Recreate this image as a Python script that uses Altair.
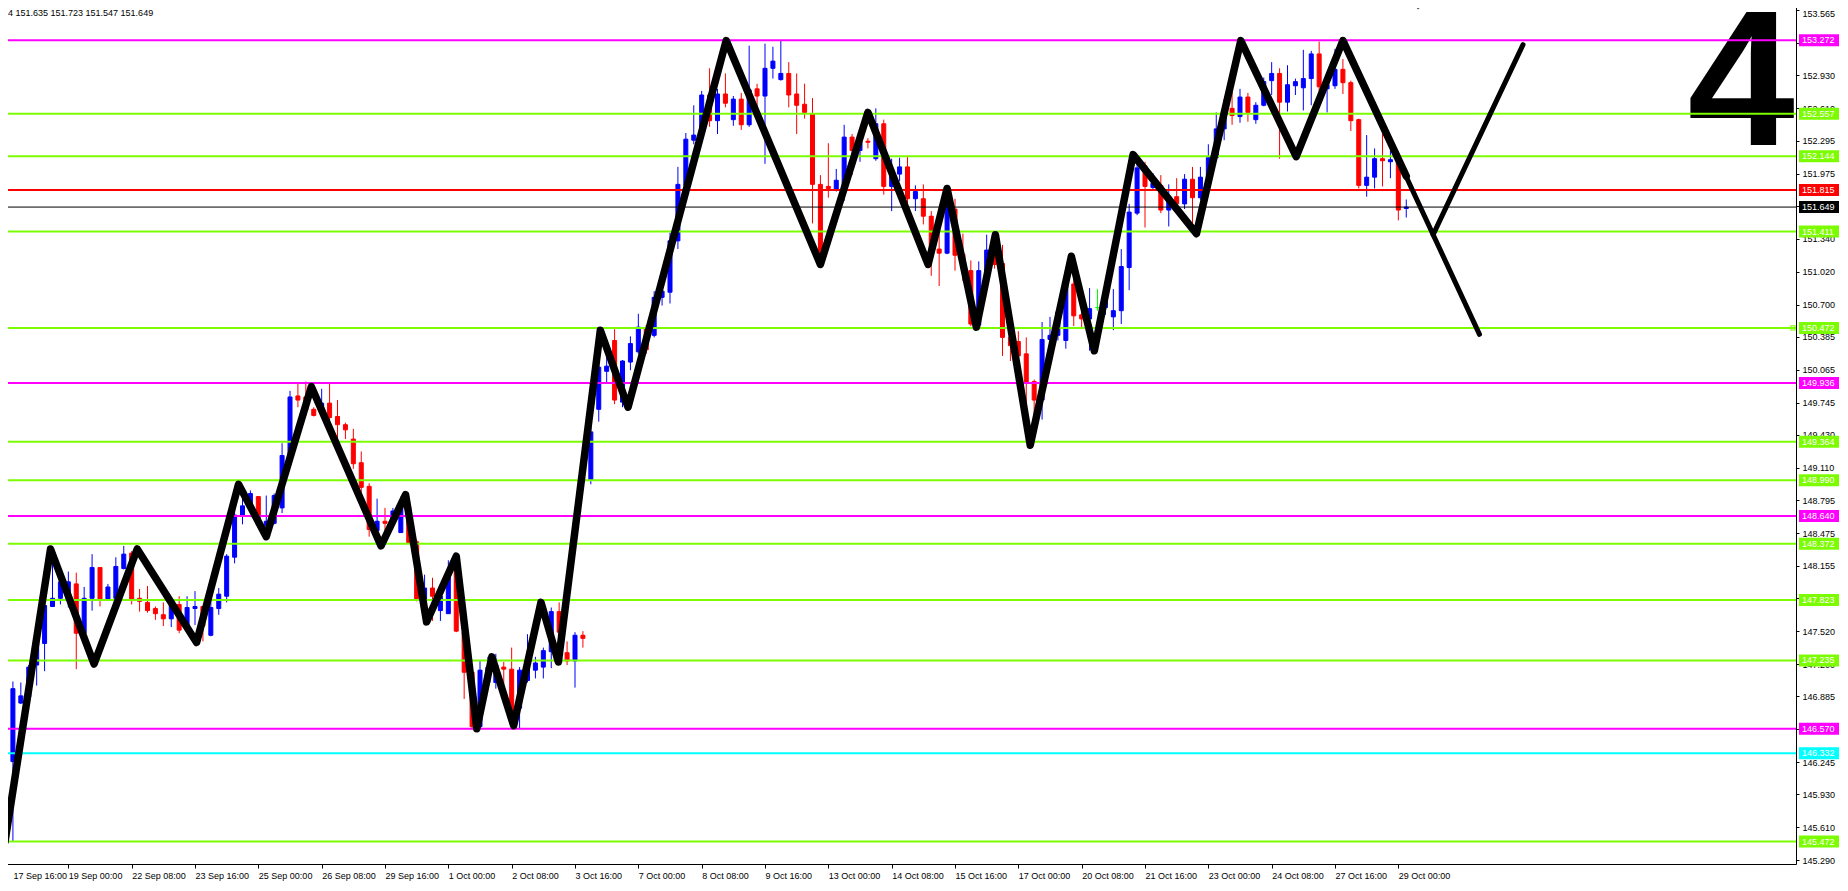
import altair as alt
import pandas as pd

W = 1796
H = 864

# ---------------- data ----------------
OPEN = [
    146.34, 146.25, 146.82, 146.88, 147.19, 147.40, 147.76, 147.84, 147.83, 147.98,
    147.50, 147.84, 148.14, 147.82, 147.84, 148.13, 148.28, 147.84, 147.80, 147.74,
    147.68, 147.64, 147.78, 147.56, 147.74, 147.76, 147.48, 147.74, 147.86, 148.24,
    148.64, 148.74, 148.83, 148.55, 148.57, 148.72, 149.23, 149.81, 149.80, 149.68,
    149.68, 149.74, 149.61, 149.53, 149.39, 149.16, 148.93, 148.50, 148.59, 148.57,
    148.48, 148.73, 148.39, 147.83, 147.94, 147.72, 147.69, 148.19, 147.51, 147.12,
    146.59, 147.02, 147.02, 147.17, 147.15, 146.77, 147.04, 147.14, 147.17, 147.32,
    147.71, 147.31, 147.23, 147.48, 148.99, 149.68, 150.05, 150.35, 149.75, 150.14,
    150.24, 150.47, 150.40, 150.77, 150.82, 151.32, 151.86, 152.30, 152.35, 152.74,
    152.49, 152.75, 152.50, 152.70, 152.45, 152.80, 152.73, 153.00, 152.89, 152.95,
    152.75, 152.65, 152.56, 151.87, 151.85, 151.82, 151.82, 152.33, 152.20, 152.29,
    152.12, 152.46, 151.85, 151.97, 152.04, 151.73, 151.73, 151.56, 151.24, 151.20,
    151.63, 151.19, 151.03, 150.50, 151.02, 151.23, 151.10, 150.38, 150.34, 150.22,
    149.95, 149.77, 150.36, 150.40, 150.35, 150.90, 150.60, 150.56, 150.67, 150.67,
    150.58, 150.64, 151.06, 151.59, 152.05, 151.84, 151.86, 151.62, 151.75, 151.68,
    151.92, 151.74, 151.93, 152.13, 152.41, 152.61, 152.53, 152.72, 152.50, 152.64,
    152.88, 152.95, 152.67, 152.83, 152.81, 152.90, 153.14, 152.80, 152.83, 152.99,
    152.86, 152.50, 151.86, 151.94, 152.12, 152.09, 152.11, 151.635,
]
HIGH = [
    146.38, 147.03, 147.02, 147.19, 147.41, 147.78, 148.22, 148.09, 148.10, 148.09,
    147.95, 148.27, 148.14, 147.98, 148.24, 148.35, 148.30, 147.93, 147.96, 147.76,
    147.80, 147.80, 147.86, 147.86, 147.91, 147.76, 147.82, 147.94, 148.27, 148.71,
    148.86, 148.89, 148.83, 148.84, 148.86, 149.35, 149.86, 149.93, 149.95, 149.70,
    149.88, 149.945, 149.77, 149.55, 149.49, 149.27, 148.96, 148.81, 148.72, 148.72,
    148.83, 148.78, 148.41, 148.07, 148.04, 147.98, 148.21, 148.27, 147.51, 147.12,
    147.23, 147.27, 147.30, 147.22, 147.36, 147.17, 147.49, 147.27, 147.36, 147.75,
    147.80, 147.42, 147.51, 147.52, 149.70, 150.20, 150.27, 150.46, 150.16, 150.39,
    150.61, 150.50, 150.83, 150.86, 151.40, 152.04, 152.37, 152.64, 152.78, 153.00,
    152.80, 152.95, 152.73, 152.76, 153.22, 152.85, 153.24, 153.21, 153.27, 153.06,
    152.95, 152.85, 152.71, 151.96, 152.27, 152.02, 152.45, 152.36, 152.36, 152.32,
    152.61, 152.50, 152.12, 152.13, 152.15, 151.86, 151.87, 151.61, 151.51, 151.83,
    151.73, 151.39, 151.13, 151.12, 151.38, 151.38, 151.28, 150.45, 150.44, 150.38,
    149.97, 150.53, 150.58, 150.67, 151.00, 151.05, 150.64, 150.86, 150.85, 150.81,
    150.85, 151.24, 151.68, 152.16, 152.09, 151.98, 151.96, 151.87, 151.93, 151.97,
    152.04, 152.04, 152.26, 152.57, 152.70, 152.77, 152.80, 152.76, 152.67, 152.91,
    153.06, 153.00, 153.03, 152.90, 153.18, 153.17, 153.26, 152.93, 153.19, 153.09,
    152.88, 152.51, 152.35, 152.22, 152.36, 152.20, 152.19, 151.723,
]
LOW = [
    146.17, 145.47, 146.81, 146.82, 146.99, 147.13, 147.76, 147.78, 147.75, 147.15,
    147.48, 147.72, 147.76, 147.82, 147.84, 148.12, 147.78, 147.71, 147.70, 147.63,
    147.57, 147.56, 147.50, 147.52, 147.58, 147.42, 147.47, 147.68, 147.80, 148.18,
    148.56, 148.68, 148.55, 148.55, 148.56, 148.67, 149.22, 149.70, 149.62, 149.61,
    149.65, 149.57, 149.40, 149.39, 149.10, 148.86, 148.44, 148.49, 148.48, 148.55,
    148.48, 148.38, 147.81, 147.81, 147.62, 147.62, 147.69, 147.51, 146.86, 146.56,
    146.57, 146.98, 146.96, 146.83, 146.70, 146.57, 147.02, 147.06, 147.06, 147.16,
    147.22, 147.19, 146.97, 147.36, 148.95, 149.56, 149.93, 149.73, 149.70, 150.06,
    150.22, 150.22, 150.38, 150.69, 150.71, 151.24, 151.85, 152.26, 152.28, 152.43,
    152.36, 152.62, 152.44, 152.40, 152.43, 152.54, 152.07, 152.90, 152.88, 152.62,
    152.36, 152.51, 151.49, 151.09, 151.74, 151.80, 151.71, 151.96, 152.09, 152.22,
    152.10, 151.77, 151.61, 151.90, 151.67, 151.61, 151.48, 150.98, 150.88, 151.19,
    151.03, 150.93, 150.49, 150.48, 151.00, 151.05, 150.20, 150.15, 150.20, 149.67,
    149.59, 149.58, 150.30, 150.35, 150.27, 150.49, 150.48, 150.25, 150.64, 150.60,
    150.45, 150.51, 150.84, 151.57, 151.45, 151.82, 151.59, 151.46, 151.67, 151.63,
    151.45, 151.72, 151.91, 152.12, 152.30, 152.45, 152.47, 152.48, 152.46, 152.63,
    152.74, 152.12, 152.58, 152.74, 152.59, 152.64, 152.78, 152.57, 152.80, 152.75,
    152.39, 151.83, 151.75, 151.83, 151.85, 151.93, 151.52, 151.547,
]
CLOSE = [
    146.25, 146.96, 146.89, 147.17, 147.41, 147.77, 147.84, 148.00, 148.00, 147.50,
    147.84, 148.14, 147.83, 147.95, 148.15, 148.27, 147.83, 147.81, 147.72, 147.69,
    147.64, 147.78, 147.53, 147.75, 147.76, 147.57, 147.75, 147.88, 148.25, 148.65,
    148.74, 148.86, 148.55, 148.59, 148.84, 149.23, 149.80, 149.77, 149.67, 149.62,
    149.74, 149.60, 149.53, 149.48, 149.15, 148.92, 148.51, 148.59, 148.57, 148.69,
    148.77, 148.38, 147.83, 147.94, 147.86, 147.86, 148.09, 147.52, 147.12, 146.59,
    147.14, 147.17, 147.19, 147.15, 146.75, 147.14, 147.19, 147.21, 147.33, 147.71,
    147.51, 147.23, 147.48, 147.45, 149.46, 150.09, 150.10, 149.77, 150.15, 150.32,
    150.48, 150.26, 150.77, 150.83, 151.32, 151.87, 152.31, 152.35, 152.74, 152.49,
    152.75, 152.66, 152.70, 152.45, 152.79, 152.73, 153.00, 153.07, 152.95, 152.74,
    152.64, 152.57, 151.87, 151.15, 151.83, 151.91, 152.33, 152.20, 152.28, 152.28,
    152.46, 151.85, 151.96, 152.04, 151.73, 151.80, 151.56, 151.22, 151.20, 151.67,
    151.18, 151.05, 150.51, 151.03, 151.23, 151.09, 150.38, 150.30, 150.20, 149.94,
    149.77, 150.36, 150.40, 150.63, 150.96, 150.59, 150.56, 150.66, 150.67, 150.73,
    150.64, 151.07, 151.60, 152.03, 151.85, 151.88, 151.62, 151.75, 151.68, 151.92,
    151.74, 151.94, 152.13, 152.41, 152.57, 152.54, 152.72, 152.57, 152.64, 152.87,
    152.95, 152.67, 152.84, 152.87, 152.90, 153.14, 152.82, 152.84, 152.99, 152.86,
    152.49, 151.86, 151.94, 152.12, 152.10, 152.11, 151.62, 151.649,
]

ZZ_BAR = [0, 5.75, 11.25, 16.7, 24.2, 29.5, 33.0, 38.7, 47.5, 50.6, 53.25, 57.0,
          59.6, 61.5, 64.25, 67.7, 69.9, 75.2, 78.7, 91.1, 103.0, 109.0, 116.6,
          119.0, 122.7, 125.1, 129.5, 134.7, 137.6, 142.5, 150.5, 156.1, 163.1,
          169.0, 177.0]
ZZ_PRICE = [145.47, 148.32, 147.20, 148.32, 147.41, 148.95, 148.44, 149.90, 148.35,
            148.85, 147.61, 148.25, 146.57, 147.27, 146.60, 147.80, 147.22, 150.45,
            149.70, 153.27, 151.09, 152.57, 151.09, 151.83, 150.48, 151.38, 149.33,
            151.17, 150.25, 152.16, 151.39, 153.27, 152.14, 153.27, 151.95]

PROJ_SEG = ["a", "a", "b", "b"]
PROJ_BAR = [169.0, 186.25, 180.4, 191.75]
PROJ_PRICE = [153.27, 150.41, 151.38, 153.23]

LEVEL_PRICE = [153.272, 152.557, 152.144, 151.815, 151.649, 151.411, 150.472,
               149.936, 149.364, 148.990, 148.640, 148.372, 147.823, 147.235,
               146.570, 146.332, 145.472]
LEVEL_COLOR = ["#FF00FF", "#7CFC00", "#7CFC00", "#FF0000", "#000000", "#7CFC00",
               "#7CFC00", "#FF00FF", "#7CFC00", "#7CFC00", "#FF00FF", "#7CFC00",
               "#7CFC00", "#7CFC00", "#FF00FF", "#00FFFF", "#7CFC00"]
LEVEL_WIDTH = [2, 2, 2, 2, 1, 2, 2, 2, 2, 2, 2, 2, 2, 2, 2, 2, 2]

Y_TICKS = [153.565, 153.250, 152.930, 152.610, 152.295, 151.975, 151.660, 151.340,
           151.020, 150.700, 150.385, 150.065, 149.745, 149.430, 149.110, 148.795,
           148.475, 148.155, 147.840, 147.520, 147.200, 146.885, 146.565, 146.245,
           145.930, 145.610, 145.290]

X_LABELS = ["17 Sep 16:00", "19 Sep 00:00", "22 Sep 08:00", "23 Sep 16:00",
            "25 Sep 00:00", "26 Sep 08:00", "29 Sep 16:00", "1 Oct 00:00",
            "2 Oct 08:00", "3 Oct 16:00", "7 Oct 00:00", "8 Oct 08:00",
            "9 Oct 16:00", "13 Oct 00:00", "14 Oct 08:00", "15 Oct 16:00",
            "17 Oct 00:00", "20 Oct 08:00", "21 Oct 16:00", "23 Oct 00:00",
            "24 Oct 08:00", "27 Oct 16:00", "29 Oct 00:00"]

HEADER = "4 151.635 151.723 151.547 151.649"
BIG_LABEL = ["4"]
BIG_BAR = [219.3]
BIG_PRICE = [152.25]

# ---------------- frames ----------------
candles = pd.DataFrame({"bar": list(range(len(OPEN))), "open": OPEN, "high": HIGH,
                        "low": LOW, "close": CLOSE})
candles["dir"] = ["up" if c > o else ("down" if c < o else "doji")
                  for o, c in zip(OPEN, CLOSE)]

zz = pd.DataFrame({"bar": ZZ_BAR, "price": ZZ_PRICE, "i": list(range(len(ZZ_BAR)))})
proj = pd.DataFrame({"seg": PROJ_SEG, "bar": PROJ_BAR, "price": PROJ_PRICE,
                     "i": list(range(len(PROJ_BAR)))})
levels = pd.DataFrame({"price": LEVEL_PRICE, "color": LEVEL_COLOR, "w": LEVEL_WIDTH})
levels["label"] = [f"{p:.3f}" for p in LEVEL_PRICE]
big = pd.DataFrame({"bar": BIG_BAR, "price": BIG_PRICE, "t": BIG_LABEL})
head = pd.DataFrame({"t": [HEADER]})
alert = pd.DataFrame({"price": [150.472]})
arrow = pd.DataFrame({"bar": [178.5], "price": [153.60]})

FONT = "Liberation Sans"
xs = alt.Scale(domain=[0, 225.6], nice=False, zero=False)
ys = alt.Scale(domain=[145.253, 153.665], nice=False, zero=False)
cscale = alt.Scale(domain=["up", "down", "doji"], range=["#0000FF", "#FF0000", "#00FF00"])

label_expr = "[" + ",".join(f"'{s}'" for s in X_LABELS) + "][round(datum.value / 8)]"

X_AXIS = alt.Axis(values=[8 * i for i in range(len(X_LABELS))], labelExpr=label_expr,
                  title=None, grid=False, labelAlign="left", labelBaseline="top",
                  labelPadding=3, tickSize=4, labelFont=FONT, labelFontSize=9,
                  labelColor="black", tickColor="black", domainColor="black",
                  labelOverlap=False, labelFlush=False,
                  labelOffset={"condition": {"test": "datum.value == 0", "value": 8},
                               "value": 0})
Y_AXIS = alt.Axis(values=Y_TICKS, format=".3f", orient="right", title=None, grid=False,
                  tickSize=3, labelPadding=3, labelFont=FONT, labelFontSize=9,
                  labelColor="black", tickColor="black", domainColor="black",
                  labelOverlap=False, labelFlush=False,
                  labelOffset={"condition": {"test": "datum.value > 153.5", "value": 3},
                               "value": 0})


def X(field):
    return alt.X(field, type="quantitative", scale=xs, axis=X_AXIS)


def Y(field):
    return alt.Y(field, type="quantitative", scale=ys, axis=Y_AXIS)


wicks = alt.Chart(candles).mark_rule(strokeWidth=1, clip=True).encode(
    x=X("bar"), y=Y("low"), y2="high",
    color=alt.Color("dir:N", scale=cscale, legend=None),
)
bodies = alt.Chart(candles).mark_bar(width=4, strokeWidth=1, clip=True).encode(
    x=X("bar"), y=Y("open"), y2="close",
    color=alt.Color("dir:N", scale=cscale, legend=None),
    stroke=alt.Stroke("dir:N", scale=cscale, legend=None),
)
big4 = alt.Chart(big).mark_text(fontSize=193, fontWeight="bold", font=FONT,
                                align="center", baseline="alphabetic",
                                color="black", clip=True).encode(
    x=X("bar"), y=Y("price"), text="t:N",
)
level_lines = alt.Chart(levels).mark_rule(clip=True).encode(
    y=Y("price"),
    color=alt.Color("color:N", scale=None),
    strokeWidth=alt.StrokeWidth("w:Q", scale=None),
)
alert_pt = alt.Chart(alert).mark_point(shape="square", filled=False, size=18,
                                       color="#7CFC00", strokeWidth=1.5).encode(
    x=alt.value(W - 3), y=Y("price"),
)
zigzag = alt.Chart(zz).mark_line(color="black", strokeWidth=7.5, strokeJoin="round",
                                 strokeCap="round", clip=True).encode(
    x=X("bar"), y=Y("price"), order="i:Q",
)
projection = alt.Chart(proj).mark_line(color="black", strokeWidth=5, strokeCap="round",
                                       clip=True).encode(
    x=X("bar"), y=Y("price"), detail="seg:N", order="i:Q",
)
arrow_pt = alt.Chart(arrow).mark_point(shape="diamond", filled=True, size=30,
                                       color="black", clip=True).encode(
    x=X("bar"), y=Y("price"),
)
boxes = alt.Chart(levels).mark_rect(yOffset=-6, y2Offset=6).encode(
    x=alt.value(W + 3), x2=alt.value(W + 43),
    y=Y("price"), y2="price",
    color=alt.Color("color:N", scale=None),
)
box_text = alt.Chart(levels).mark_text(align="left", baseline="middle", color="white",
                                       font=FONT, fontSize=9).encode(
    x=alt.value(W + 6), y=Y("price"), text="label:N",
)
# the page clips the first 8 px, so the header sits just below that strip
header = alt.Chart(head).mark_text(align="left", baseline="top", color="black",
                                   font=FONT, fontSize=9).encode(
    x=alt.value(8), y=alt.value(9), text="t:N",
)

chart = alt.layer(
    wicks, bodies, big4, level_lines, alert_pt, zigzag, projection, arrow_pt,
    boxes, box_text, header,
).properties(
    width=W, height=H,
    autosize=alt.AutoSizeParams(type="none"),
    padding={"left": -8, "top": -8, "right": 44, "bottom": 19},
    background="white",
).configure_view(stroke=None)

chart.save("out.html", embed_options={"renderer": "svg", "actions": False})
